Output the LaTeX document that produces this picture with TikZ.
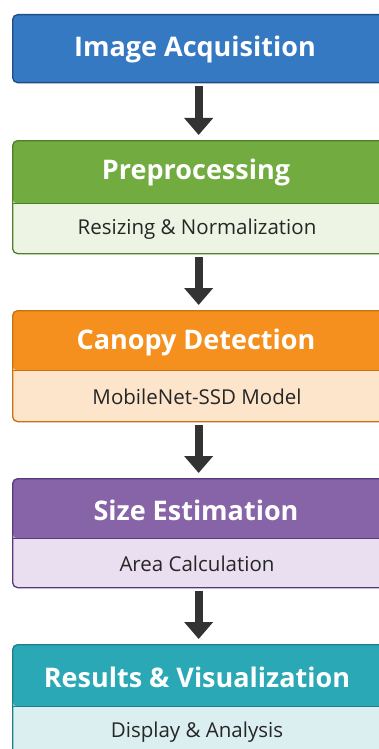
\documentclass[tikz,border=0pt]{standalone}
\usepackage{fontspec}
\setmainfont{Open Sans}
\usetikzlibrary{arrows.meta}

% stage palette: border, header fill, body fill
\definecolor{blueB}{HTML}{1F4C82}\definecolor{blueH}{HTML}{3579C3}
\definecolor{greenB}{HTML}{4E7F2A}\definecolor{greenH}{HTML}{72AB3F}\definecolor{greenL}{HTML}{EEF4E3}
\definecolor{orangeB}{HTML}{C9700F}\definecolor{orangeH}{HTML}{F5901E}\definecolor{orangeL}{HTML}{FDE5CC}
\definecolor{purpleB}{HTML}{573A7C}\definecolor{purpleH}{HTML}{8763A8}\definecolor{purpleL}{HTML}{EADFF0}
\definecolor{tealB}{HTML}{1C7E8A}\definecolor{tealH}{HTML}{2AA8B6}\definecolor{tealL}{HTML}{DCEFF0}
\definecolor{arrowC}{HTML}{333333}

\tikzset{
  % #1 border, #2 header fill, #3 body fill, #4 total height, #5 header height
  stagebox/.style n args={5}{
    draw=#1, fill=#3, line width=1.3pt, rounded corners=5pt,
    minimum width=372pt, minimum height=#4, anchor=north west, inner sep=0pt,
    path picture={
      \fill[#2] (path picture bounding box.north west) rectangle
        ([yshift=-#5]path picture bounding box.north east);
      \draw[#1, line width=1pt] ([yshift=-#5]path picture bounding box.north west) --
        ([yshift=-#5]path picture bounding box.north east);
    }},
  title/.style={text=white, font=\bfseries\fontsize{27}{32}\selectfont, inner sep=0pt},
  subtitle/.style={text=black!85, font=\fontsize{20.5}{24}\selectfont, inner sep=0pt},
  flow/.style={draw=arrowC, line width=8pt, -{Triangle[width=28pt,length=17pt]},
    shorten <=3pt, shorten >=5pt},
}

\begin{document}
\begin{tikzpicture}[x=1pt,y=1pt]
\useasboundingbox (0,0) rectangle (378,-749);
\fill[white] (0,0) rectangle (378,-749);

% stage frames
\node[stagebox={blueB}{blueH}{blueH}{68pt}{68pt}] (s1) at (12,-14) {};
\node[stagebox={greenB}{greenH}{greenL}{113pt}{63pt}] (s2) at (12,-140) {};
\node[stagebox={orangeB}{orangeH}{orangeL}{111pt}{60pt}] (s3) at (12,-310) {};
\node[stagebox={purpleB}{purpleH}{purpleL}{109pt}{60pt}] (s4) at (12,-478) {};
\node[stagebox={tealB}{tealH}{tealL}{114pt}{62pt}] (s5) at (12,-644) {};

% stage titles
\node[title] (t1) at (195,-49) {Image Acquisition};
\node[title] (t2) at (196,-172) {Preprocessing};
\node[title] (t3) at (196,-342) {Canopy Detection};
\node[title] (t4) at (196,-510) {Size Estimation};
\node[title] (t5) at (197,-677) {Results \& Visualization};

% stage details
\node[subtitle] (d2) at (197,-229) {Resizing \& Normalization};
\node[subtitle] (d3) at (197,-397) {MobileNet-SSD Model};
\node[subtitle] (d4) at (197,-564) {Area Calculation};
\node[subtitle] (d5) at (197,-732) {Display \& Analysis};

% flow between stages
\draw[flow] (s1.south) -- (s2.north);
\draw[flow] (s2.south) -- (s3.north);
\draw[flow] (s3.south) -- (s4.north);
\draw[flow] (s4.south) -- (s5.north);
\end{tikzpicture}
\end{document}
